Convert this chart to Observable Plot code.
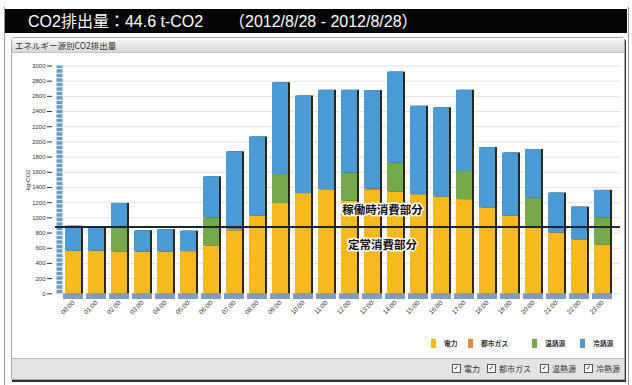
<!DOCTYPE html>
<html><head><meta charset="utf-8">
<script src="https://cdn.jsdelivr.net/npm/d3@7"></script>
<script src="https://cdn.jsdelivr.net/npm/@observablehq/plot@0.6"></script>
<style>
body{margin:0;width:632px;height:385px;position:relative;background:#fff;font-family:"Noto Sans CJK JP","Liberation Sans",sans-serif;overflow:hidden}
#outer{position:absolute;left:4px;top:7px;width:623px;height:378px;border-left:1px solid #9a9a9a;border-right:1px solid #9a9a9a}
#title{position:absolute;left:5px;top:9px;width:622px;height:24px;background:#050505;color:#fff;font-family:"Liberation Sans","Noto Sans CJK JP",sans-serif;font-size:16px;line-height:25px;white-space:pre}
#title .a{position:absolute;left:23px}
#title .b{position:absolute;left:224px}
#panel{position:absolute;left:11px;top:37px;width:612px;height:341px;border:1px solid #a8a8a8;border-radius:3px 3px 0 0;box-shadow:1px 2px 0 #333;background:#fff}
#phead{height:14px;background:linear-gradient(#f8f8f8,#d9d9d9);border-bottom:1px solid #c4c4c4;font-size:8.5px;line-height:14px;padding-left:3px;color:#333}
#footer{position:absolute;left:0;bottom:0;width:612px;height:20px;background:#e3e3e3;border-top:1px solid #bdbdbd}
#chart{position:absolute;left:0;top:52px}
.lg{position:absolute;font-size:6.8px;font-weight:bold;color:#333;line-height:9px}
.lg i{position:absolute;left:0;top:0;width:5px;height:9px}
.lg span{position:absolute;left:13px;top:0;white-space:nowrap}
.cb{position:absolute;top:364px;font-size:8px;color:#333;line-height:9px;white-space:nowrap}
.cb b{display:inline-block;width:7px;height:7px;border:1px solid #555;background:#fff;font-size:7px;line-height:7px;text-align:center;font-weight:bold;margin-right:3px;vertical-align:top;font-family:"DejaVu Sans"}
</style></head>
<body>
<div id="outer"></div>
<div id="title"><span class="a">CO2排出量：44.6 t-CO2</span><span class="b">（2012/8/28 - 2012/8/28）</span></div>
<div id="panel"><div id="phead">エネルギー源別CO2排出量</div><div id="footer"></div></div>
<div id="chart"></div>
<div id="legend"></div>
<div id="checks"></div>
<script>
const hours = ["00:00","01:00","02:00","03:00","04:00","05:00","06:00","07:00","08:00","09:00","10:00","11:00","12:00","13:00","14:00","15:00","16:00","17:00","18:00","19:00","20:00","21:00","22:00","23:00"];
const electricity = [560,560,550,550,550,555,630,830,1020,1190,1320,1370,1220,1360,1340,1305,1275,1240,1130,1020,870,800,710,640];
const cityGas =     [0,0,0,0,0,0,0,20,0,0,0,0,0,20,0,0,0,0,0,0,0,0,0,0];
const heating =     [0,0,310,0,0,0,370,0,0,380,0,0,370,0,380,0,0,370,0,0,390,0,0,360];
const cooling =     [330,300,330,280,295,270,540,1020,1045,1210,1285,1310,1090,1295,1200,1165,1175,1070,795,835,640,527,432,362];
const seriesNames = ["電力","都市ガス","温熱源","冷熱源"];
const seriesColors = ["#f6b920","#dd8b3b","#74aa4c","#4a9ad6"];
const yTicks = [0,200,400,600,800,1000,1200,1400,1600,1800,2000,2200,2400,2600,2800,3000];
const baseLoad = 880;
const zoneLabels = ["稼働時消費部分","定常消費部分"];
const zoneLabelY = [1100,640];
const yLabel = "kg-CO2";

const seriesValues = [electricity, cityGas, heating, cooling];
const rows = hours.flatMap((h,i)=>seriesNames.map((s,j)=>({hour:h, series:s, value:seriesValues[j][i]})));
const totals = hours.map((h,i)=>({hour:h, total:seriesValues.reduce((a,v)=>a+v[i],0)}));
const zones = zoneLabels.map((t,i)=>({text:t, y:zoneLabelY[i], hour:hours[13]}));

const plot = Plot.plot({
  width:632, height:306,
  marginTop:13.5, marginBottom:64.7, marginLeft:55, marginRight:12,
  style:{background:"transparent", fontFamily:"Liberation Sans, Arial, sans-serif", fontSize:"6px", color:"#333"},
  x:{domain:hours, padding:0.3},
  y:{domain:[0,3000]},
  color:{domain:seriesNames, range:seriesColors},
  marks:[
    Plot.ruleY(yTicks, {stroke:"#e2e2e2", strokeWidth:1}),
    Plot.ruleX([hours[0]], {x:d=>d, y1:0, y2:3000, dx:-14, stroke:"#6b9ac4", strokeWidth:6, strokeDasharray:"3.6 0.9"}),
    Plot.barY(hours, {x:d=>d, y1:-75, y2:0, fill:"#7f9dbd", insetLeft:-2, insetRight:-2}),
    Plot.barY(totals, {x:"hour", y:"total", fill:"#2b2718", dx:2}),
    Plot.barY(rows, {x:"hour", y:"value", fill:"series"}),
    Plot.ruleY([baseLoad], {stroke:"#1b2533", strokeWidth:2}),
    Plot.text(zones, {x:"hour", y:"y", text:"text", dx:10, fontSize:11.5, fontWeight:"bold", fill:"#111", stroke:"white", strokeWidth:3, fontFamily:"Noto Sans CJK JP"}),
    Plot.axisY({ticks:yTicks, tickFormat:d=>String(d), tickSize:5, tickPadding:2, dx:-3, fontSize:6, label:yLabel, labelAnchor:"center", labelOffset:30, labelArrow:"none"}),
    Plot.axisX({tickRotate:-45, tickSize:0, tickPadding:8, fontSize:6.5, label:null})
  ]
});
document.getElementById("chart").appendChild(plot);

const lgLeft = [431,468,532,580];
const lg = document.getElementById("legend");
seriesNames.forEach((s,i)=>{
  const d=document.createElement("div"); d.className="lg";
  d.style.left=lgLeft[i]+"px"; d.style.top="339px";
  d.innerHTML=`<i style="background:${seriesColors[i]}"></i><span>${s}</span>`;
  lg.appendChild(d);
});
const cbLeft = [452,487,540,584];
const cb = document.getElementById("checks");
seriesNames.forEach((s,i)=>{
  const d=document.createElement("div"); d.className="cb";
  d.style.left=cbLeft[i]+"px";
  d.innerHTML=`<b>✓</b>${s}`;
  cb.appendChild(d);
});
</script>
</body></html>
